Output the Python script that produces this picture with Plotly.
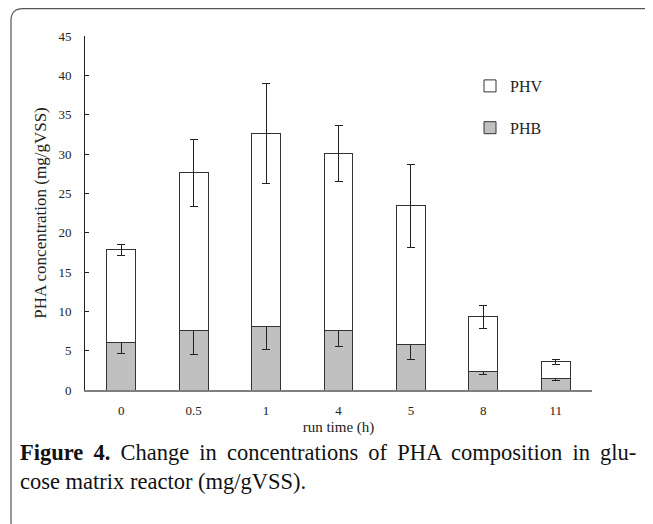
import plotly.graph_objects as go

categories = ["0", "0.5", "1", "4", "5", "8", "11"]
phb = [6.1, 7.55, 8.05, 7.62, 5.76, 2.41, 1.48]
phb_err = [1.5, 3.0, 2.9, 2.15, 1.9, 0.42, 0.3]
phv = [11.7, 20.05, 24.55, 22.44, 17.64, 6.9, 2.08]
phv_err = [0.75, 4.3, 6.3, 3.55, 5.3, 1.45, 0.36]

OFF = 8  # page body margin
W, H = 645, 516
L, T = 77, 28
PW, PH = 507, 354
R, B = W - L - PW, H - T - PH


def px(x):
    # page x pixel -> paper coordinate
    return (x - OFF - L) / PW


def py(y):
    # page y pixel -> paper coordinate
    return (T + PH + OFF - y) / PH


font_family = "Liberation Serif, Times New Roman, serif"

fig = go.Figure()
fig.add_trace(go.Bar(
    x=categories, y=phb, name="PHB", legendgroup="b", legendrank=2,
    marker=dict(color="#C0C0C0", line=dict(color="#333333", width=1)),
    error_y=dict(type="data", array=phb_err, visible=True, color="#222222", thickness=1, width=4),
))
fig.add_trace(go.Bar(
    x=categories, y=phv, name="PHV", legendgroup="v", legendrank=1,
    marker=dict(color="#FFFFFF", line=dict(color="#333333", width=1)),
    error_y=dict(type="data", array=phv_err, visible=True, color="#222222", thickness=1, width=4),
))

# frame (rounded rectangle, partly outside the page)
x0, y0, x1, y1, r = 11, 8.7, 663, 534, 12
path = (f"M {px(x0)},{py(y0 + r)} Q {px(x0)},{py(y0)} {px(x0 + r)},{py(y0)} "
        f"L {px(x1 - r)},{py(y0)} Q {px(x1)},{py(y0)} {px(x1)},{py(y0 + r)} "
        f"L {px(x1)},{py(y1 - r)} Q {px(x1)},{py(y1)} {px(x1 - r)},{py(y1)} "
        f"L {px(x0 + r)},{py(y1)} Q {px(x0)},{py(y1)} {px(x0)},{py(y1 - r)} Z")
fig.add_shape(type="path", path=path, xref="paper", yref="paper",
              line=dict(color="#555555", width=1.2), fillcolor="rgba(0,0,0,0)")

line1 = "Change in concentrations of PHA composition in glu-".replace(" ", " \u2009")
fig.add_annotation(
    xref="paper", yref="paper", x=px(18), y=py(467), xanchor="left", yanchor="middle",
    align="left", showarrow=False,
    text="<b>Figure\u2009 4.</b> \u2009" + line1 + "<br>cose matrix reactor (mg/gVSS).",
    font=dict(family=font_family, size=22.5, color="#111111"),
)

fig.update_layout(
    width=W, height=H,
    margin=dict(l=L, r=R, t=T, b=B, pad=0),
    paper_bgcolor="white", plot_bgcolor="white",
    barmode="stack", bargap=0.6,
    font=dict(family=font_family, size=13, color="#222222"),
    showlegend=True,
    legend=dict(
        x=px(470), y=py(69), xanchor="left", yanchor="top",
        traceorder="grouped", tracegroupgap=18,
        font=dict(family=font_family, size=16, color="#222222"),
        bgcolor="rgba(0,0,0,0)",
    ),
    xaxis=dict(
        type="category", showline=True, linecolor="#7f7f7f", linewidth=2,
        ticks="", showgrid=False, zeroline=False, automargin=False,
        tickfont=dict(size=13), ticklabelstandoff=7,
        title=dict(text="run time (h)", font=dict(size=15), standoff=5),
    ),
    yaxis=dict(
        range=[0, 45], dtick=5, showline=True, linecolor="#222222", linewidth=1,
        ticks="inside", ticklen=4, tickcolor="#222222", showgrid=False, zeroline=False,
        automargin=False, tickfont=dict(size=13), ticklabelstandoff=10,
        title=dict(text="PHA concentration (mg/gVSS)", font=dict(size=17), standoff=7),
    ),
)

fig.write_html("out.html")
